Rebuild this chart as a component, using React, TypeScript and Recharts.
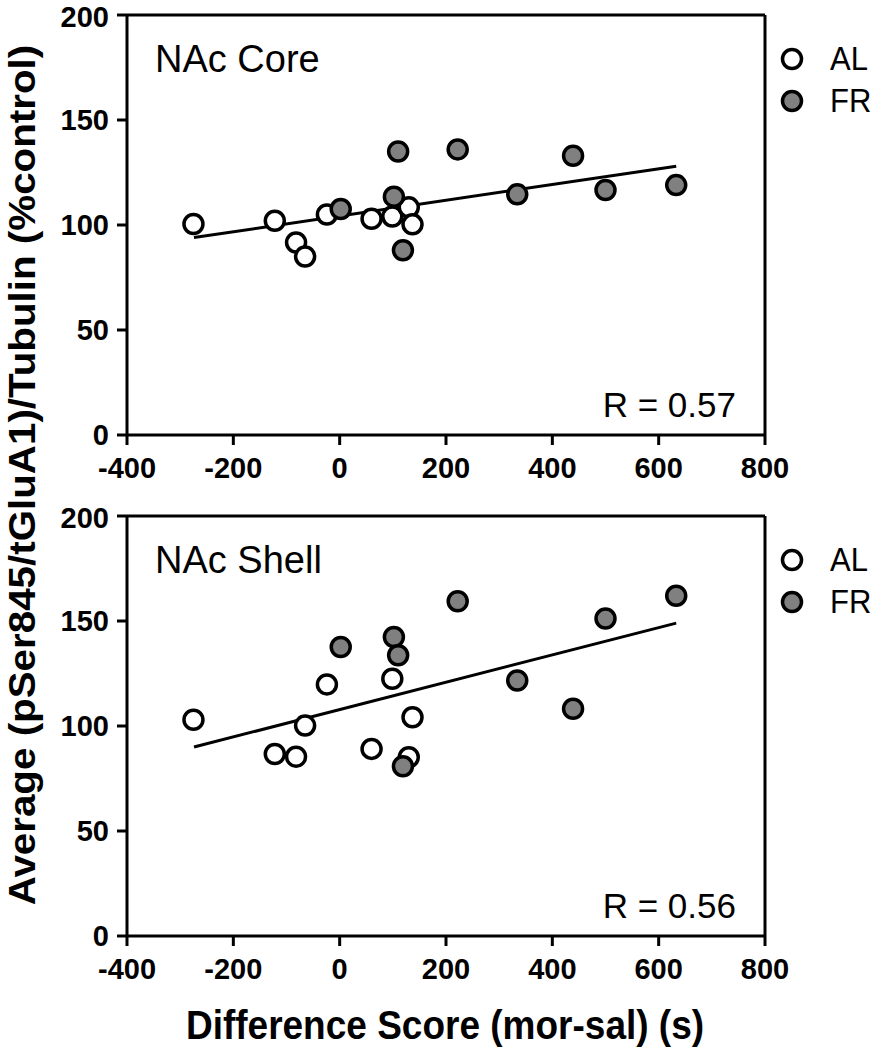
import React from "react";
import { ScatterChart, Scatter, XAxis, YAxis, ReferenceLine } from "recharts";

const FONT = "'Liberation Sans', Arial, Helvetica, sans-serif";

const X_TICKS = [-400, -200, 0, 200, 400, 600, 800];
const Y_TICKS = [0, 50, 100, 150, 200];

// difference scores (mor-sal), same animals in both regions
const AL_X = [-275, -122, -82, -65, -24, 60, 99, 130, 137];
const FR_X = [2, 102, 110, 119, 222, 334, 439, 500, 633];

// NAc core
const CORE_AL_Y = [100.5, 102, 91.7, 85, 105, 103, 104, 108.4, 100.3];
const CORE_FR_Y = [107.6, 113.5, 135, 88, 136, 114.6, 133, 116.7, 119];
const CORE_FIT = [94, 128];

// NAc shell
const SHELL_AL_Y = [103, 86.7, 85.4, 100.2, 119.8, 89.1, 122.5, 85.1, 104.2];
const SHELL_FR_Y = [137.6, 142.4, 133.7, 80.8, 159.4, 121.7, 108.2, 151.2, 162];
const SHELL_FIT = [90, 149];

const FIT_X = [-274, 633];

const GROUPS = [
  { name: "AL", fill: "#ffffff" },
  { name: "FR", fill: "#808080" },
];

const toPoints = (xs: number[], ys: number[]) => xs.map((x, i) => ({ x, y: ys[i] }));

const Dot = (props: any) => {
  const { cx, cy, fill } = props;
  return <circle cx={cx} cy={cy} r={9.5} fill={fill} stroke="#000" strokeWidth={3.5} />;
};

// legend drawn as an overlay so it doesn't eat into the plot area
const LegendBox = () => (
  <div style={{ position: "absolute", left: 780, top: 38, fontFamily: FONT }}>
    {GROUPS.map((g) => (
      <div key={g.name} style={{ display: "flex", alignItems: "center", height: 42 }}>
        <svg width={24} height={24}>
          <circle cx={12} cy={12} r={9.5} fill={g.fill} stroke="#000" strokeWidth={3.5} />
        </svg>
        <span style={{ fontSize: 31, marginLeft: 26, display: "inline-block", transform: "scaleY(1.06)" }}>
          {g.name}
        </span>
      </div>
    ))}
  </div>
);

interface PanelProps {
  title: string;
  r: string;
  alY: number[];
  frY: number[];
  fit: number[];
  top: number;
}

function Panel({ title, r, alY, frY, fit, top }: PanelProps) {
  const axisStyle = { stroke: "#000", strokeWidth: 3 };
  const tickStyle = { fill: "#000", fontSize: 29, fontWeight: "bold" as const, fontFamily: FONT };
  return (
    <div style={{ position: "absolute", left: 0, top, width: 883, height: 500 }}>
      <ScatterChart width={883} height={500} margin={{ top: 15, right: 118, bottom: 0, left: 0 }}>
        <XAxis
          type="number"
          dataKey="x"
          domain={[-400, 800]}
          ticks={X_TICKS}
          height={65}
          axisLine={axisStyle}
          tickLine={axisStyle}
          tickSize={10}
          tickMargin={12}
          tick={tickStyle}
          allowDataOverflow
        />
        <YAxis
          type="number"
          dataKey="y"
          domain={[0, 200]}
          ticks={Y_TICKS}
          width={127}
          axisLine={axisStyle}
          tickLine={axisStyle}
          tickSize={10}
          tickMargin={8}
          tick={tickStyle}
          allowDataOverflow
        />
        <ReferenceLine y={200} stroke="#000" strokeWidth={3} />
        <ReferenceLine x={800} stroke="#000" strokeWidth={3} />
        <ReferenceLine
          segment={[
            { x: FIT_X[0], y: fit[0] },
            { x: FIT_X[1], y: fit[1] },
          ]}
          stroke="#000"
          strokeWidth={3}
        />
        <Scatter name="AL" data={toPoints(AL_X, alY)} fill="#ffffff" shape={Dot} isAnimationActive={false} />
        <Scatter name="FR" data={toPoints(FR_X, frY)} fill="#808080" shape={Dot} isAnimationActive={false} />
      </ScatterChart>
      <LegendBox />
      <div
        style={{
          position: "absolute",
          left: 155,
          top: 59,
          fontFamily: FONT,
          fontSize: 38,
          lineHeight: 1,
          whiteSpace: "nowrap",
          transform: "translateY(-50%)",
        }}
      >
        {title}
      </div>
      <div
        style={{
          position: "absolute",
          right: 883 - 736,
          top: 404,
          fontFamily: FONT,
          fontSize: 35,
          lineHeight: 1,
          whiteSpace: "nowrap",
          transform: "translateY(-50%)",
        }}
      >
        {r}
      </div>
    </div>
  );
}

export default function App() {
  return (
    <div style={{ position: "absolute", left: 0, top: 0, width: 883, height: 1050, background: "#fff" }}>
      <Panel title="NAc Core" r="R = 0.57" alY={CORE_AL_Y} frY={CORE_FR_Y} fit={CORE_FIT} top={0} />
      <Panel title="NAc Shell" r="R = 0.56" alY={SHELL_AL_Y} frY={SHELL_FR_Y} fit={SHELL_FIT} top={501} />
      <div
        style={{
          position: "absolute",
          left: 22,
          top: 475,
          fontFamily: FONT,
          fontWeight: "bold",
          fontSize: 37,
          lineHeight: 1,
          whiteSpace: "nowrap",
          transform: "translate(-50%, -50%) rotate(-90deg) scale(1.09, 1)",
        }}
      >
        Average (pSer845/tGluA1)/Tubulin (%control)
      </div>
      <div
        style={{
          position: "absolute",
          left: 445,
          top: 1025,
          fontFamily: FONT,
          fontWeight: "bold",
          fontSize: 37,
          lineHeight: 1,
          whiteSpace: "nowrap",
          transform: "translate(-50%, -50%) scaleY(1.09)",
        }}
      >
        Difference Score (mor-sal) (s)
      </div>
    </div>
  );
}
